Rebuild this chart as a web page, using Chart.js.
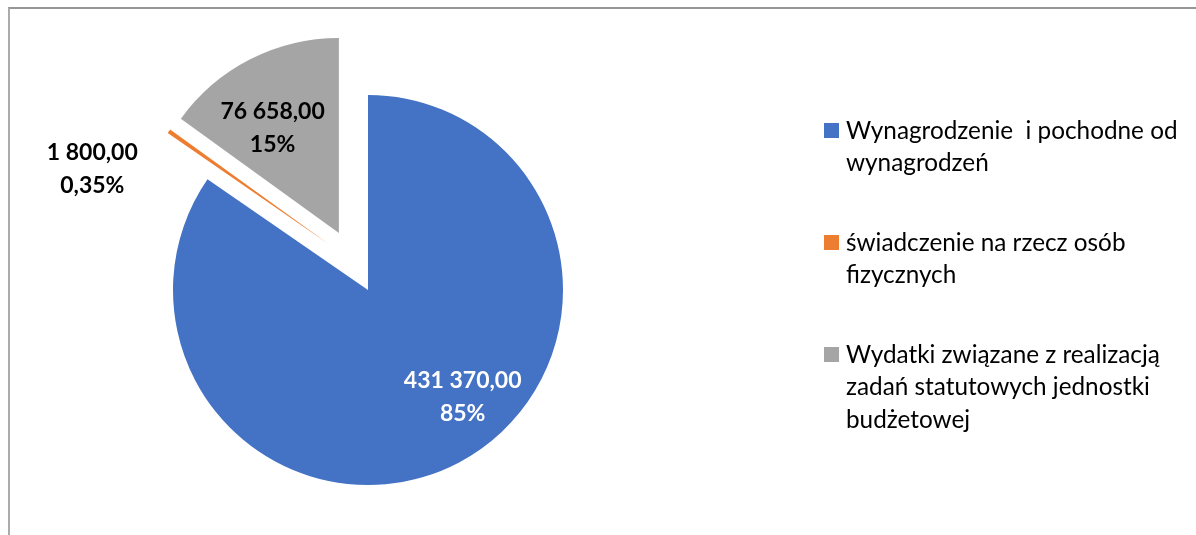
<!DOCTYPE html>
<html lang="pl">
<head>
<meta charset="UTF-8">
<title>Struktura wydatków</title>
<script src="https://cdn.jsdelivr.net/npm/chart.js"></script>
<style>
  html, body { margin: 0; padding: 0; background: #fff; }
  #wrap { position: relative; width: 1196px; height: 535px; overflow: hidden; }
  #frame {
    position: absolute; left: 8px; top: 7px; width: 1200px; height: 540px;
    border-top: 2px solid #969696; border-left: 2px solid #ababab;
  }
  canvas { position: absolute; left: 0; top: 0; }
</style>
</head>
<body>
<div id="wrap">
  <div id="frame"></div>
  <canvas id="wykres" width="1196" height="535"></canvas>
</div>

<script>
// dane wykresu
const kategorie = [
  ['Wynagrodzenie  i pochodne od', 'wynagrodzeń'],
  ['świadczenie na rzecz osób', 'fizycznych'],
  ['Wydatki związane z realizacją', 'zadań statutowych jednostki', 'budżetowej']
];
const kwoty = [431370.00, 1800.00, 76658.00];
const procenty = ['85%', '0,35%', '15%'];

const kolory = ['#4472C4', '#ED7D31', '#A5A5A5'];
const kolorEtykiet = ['#ffffff', '#000000', '#000000'];
const wysuniecie = [0, 61, 64];              // odsunięcie wycinka od środka, px
const kierunekWysuniecia = [0, 14, 0];       // odchylenie kierunku od dwusiecznej, stopnie
const polozenieEtykiet = [                   // r = ułamek promienia, kat = przesunięcie w stopniach
  {r: 0.73, kat: -14},
  {r: 1.27, kat: -17.5},
  {r: 0.64, kat: -5}
];

const st = Math.PI / 180;

function formatKwoty(v) {
  const [c, d] = v.toFixed(2).split('.');
  return c.replace(/\B(?=(\d{3})+(?!\d))/g, ' ') + ',' + d;
}

// wysunięcie wycinków (przesunięcie całego wycinka, bez zmiany promienia)
const eksplozja = {
  id: 'eksplozja',
  afterDatasetUpdate(chart, args) {
    args.meta.data.forEach((arc, i) => {
      const kier = (arc.startAngle + arc.endAngle) / 2 + kierunekWysuniecia[i] * st;
      arc.x += Math.cos(kier) * wysuniecie[i];
      arc.y += Math.sin(kier) * wysuniecie[i];
    });
  }
};

// etykiety danych na wycinkach
const etykiety = {
  id: 'etykiety',
  afterDatasetsDraw(chart) {
    const ctx = chart.ctx;
    const meta = chart.getDatasetMeta(0);
    ctx.save();
    ctx.font = 'bold 23px Lato';
    ctx.textAlign = 'center';
    ctx.textBaseline = 'middle';
    meta.data.forEach((arc, i) => {
      const pol = (arc.startAngle + arc.endAngle) / 2;
      const a = pol + polozenieEtykiet[i].kat * st;
      const x = arc.x + Math.cos(a) * arc.outerRadius * polozenieEtykiet[i].r;
      const y = arc.y + Math.sin(a) * arc.outerRadius * polozenieEtykiet[i].r;
      ctx.fillStyle = kolorEtykiet[i];
      ctx.fillText(formatKwoty(kwoty[i]), x, y - 16);
      ctx.fillText(procenty[i], x, y + 17);
    });
    ctx.restore();
  }
};

// legenda po prawej stronie
const legenda = {
  id: 'legenda',
  afterDraw(chart) {
    const ctx = chart.ctx;
    const x = 824, linia = 32.5, odstep = 47;
    let y = 131;
    ctx.save();
    ctx.font = '24.3px Lato';
    ctx.textBaseline = 'middle';
    kategorie.forEach((txt, i) => {
      ctx.fillStyle = kolory[i];
      ctx.fillRect(x, y - 8, 15, 15);
      ctx.fillStyle = '#000';
      txt.forEach((t, j) => ctx.fillText(t, x + 22, y + j * linia));
      y += txt.length * linia + odstep;
    });
    ctx.restore();
  }
};

new Chart(document.getElementById('wykres'), {
  type: 'pie',
  data: {
    labels: kategorie,
    datasets: [{
      data: kwoty,
      backgroundColor: kolory,
      borderWidth: 0,
      hoverOffset: 0,
      radius: 195
    }]
  },
  options: {
    responsive: false,
    animation: false,
    events: [],
    layout: { padding: { left: 0, right: 460, top: 45, bottom: 0 } },
    plugins: {
      legend: { display: false },
      tooltip: { enabled: false }
    }
  },
  plugins: [eksplozja, etykiety, legenda]
});
</script>
</body>
</html>
